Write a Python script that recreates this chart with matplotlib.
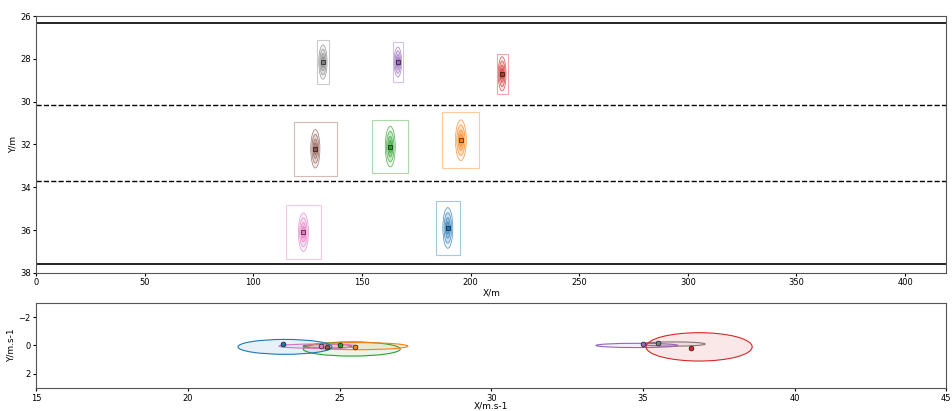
import matplotlib
matplotlib.use("Agg")
import matplotlib.pyplot as plt
from matplotlib.patches import Ellipse, Rectangle

# vehicle colours (tab10 order)
colors = ["tab:gray", "tab:purple", "tab:red", "tab:brown",
          "tab:green", "tab:orange", "tab:pink", "tab:blue"]

# position estimates (m)
pos_x = [132.0, 166.5, 214.5, 128.5, 163.0, 195.5, 123.0, 189.5]
pos_y = [28.15, 28.15, 28.7, 32.2, 32.1, 31.8, 36.1, 35.9]
# bounding boxes (m)
box_w = [5.5, 4.6, 5.0, 20.0, 16.5, 17.0, 16.0, 11.0]
box_h = [2.05, 1.9, 1.85, 2.5, 2.5, 2.6, 2.5, 2.55]
# position uncertainty ellipses (m)
ell_w = [3.8, 3.4, 3.6, 4.2, 4.6, 5.0, 4.6, 4.6]
ell_h = [1.6, 1.4, 1.6, 1.8, 1.9, 1.9, 1.8, 1.9]

# velocity estimates (m/s)
vel_x = [35.5, 35.0, 36.6, 24.6, 25.0, 25.5, 24.4, 23.15]
vel_y = [-0.2, -0.1, 0.15, 0.1, 0.0, 0.1, 0.05, -0.1]
vell_cx = [36.0, 34.8, 36.85, 24.6, 25.4, 25.6, 24.3, 23.2]
vell_cy = [-0.1, 0.0, 0.1, 0.05, 0.25, 0.05, 0.05, 0.1]
vell_w = [2.1, 2.7, 3.5, 1.6, 3.2, 3.3, 2.6, 3.1]
vell_h = [0.3, 0.3, 2.0, 0.3, 1.0, 0.5, 0.3, 1.05]

# lane markings
road_edges = [26.33, 37.59]
lane_lines = [30.16, 33.71]

levels = [1.0, 0.75, 0.5, 0.3]

fig = plt.figure(figsize=(9.53, 4.11), dpi=100)
ax1 = fig.add_axes([0.038, 0.336, 0.955, 0.625])
ax2 = fig.add_axes([0.038, 0.056, 0.955, 0.207])

for y in road_edges:
    ax1.axhline(y, color="black", lw=1.2)
for y in lane_lines:
    ax1.axhline(y, color="black", lw=1.0, ls="--")

for i, c in enumerate(colors):
    ax1.add_patch(Rectangle((pos_x[i] - box_w[i] / 2, pos_y[i] - box_h[i] / 2),
                            box_w[i], box_h[i], fill=False, ec=c, alpha=0.4, lw=0.8))
    for k, s in enumerate(levels):
        ax1.add_patch(Ellipse((pos_x[i], pos_y[i]), ell_w[i] * s, ell_h[i] * s,
                              fc=c, ec="none", alpha=0.08 + 0.1 * k))
        ax1.add_patch(Ellipse((pos_x[i], pos_y[i]), ell_w[i] * s, ell_h[i] * s,
                              fill=False, ec=c, lw=0.5, alpha=0.8))
    ax1.plot(pos_x[i], pos_y[i], "s", color=c, mec="black", mew=0.4, ms=3.5)

ax1.set_xlim(0, 419)
ax1.set_ylim(38, 26)
ax1.set_xticks(range(0, 401, 50))
ax1.set_yticks(range(26, 39, 2))
ax1.set_xlabel("X/m", fontsize=6.5, labelpad=1)
ax1.set_ylabel("Y/m", fontsize=6.5, labelpad=2)

for i, c in enumerate(colors):
    ax2.add_patch(Ellipse((vell_cx[i], vell_cy[i]), vell_w[i], vell_h[i],
                          fc=c, alpha=0.1))
    ax2.add_patch(Ellipse((vell_cx[i], vell_cy[i]), vell_w[i], vell_h[i],
                          fill=False, ec=c, lw=0.8))
    ax2.plot(vel_x[i], vel_y[i], "o", color=c, mec="black", mew=0.4, ms=3.5)

ax2.set_xlim(15, 45)
ax2.set_ylim(3, -3)
ax2.set_yticks([-2, 0, 2])
ax2.set_xlabel("X/m.s-1", fontsize=6.5, labelpad=-1)
ax2.set_ylabel("Y/m.s-1", fontsize=6.5, labelpad=2)

for ax in (ax1, ax2):
    ax.tick_params(labelsize=6, length=2.5, pad=1.5)
    for sp in ax.spines.values():
        sp.set_color("#555555")
        sp.set_linewidth(0.8)

plt.savefig("out.png", dpi=100)
